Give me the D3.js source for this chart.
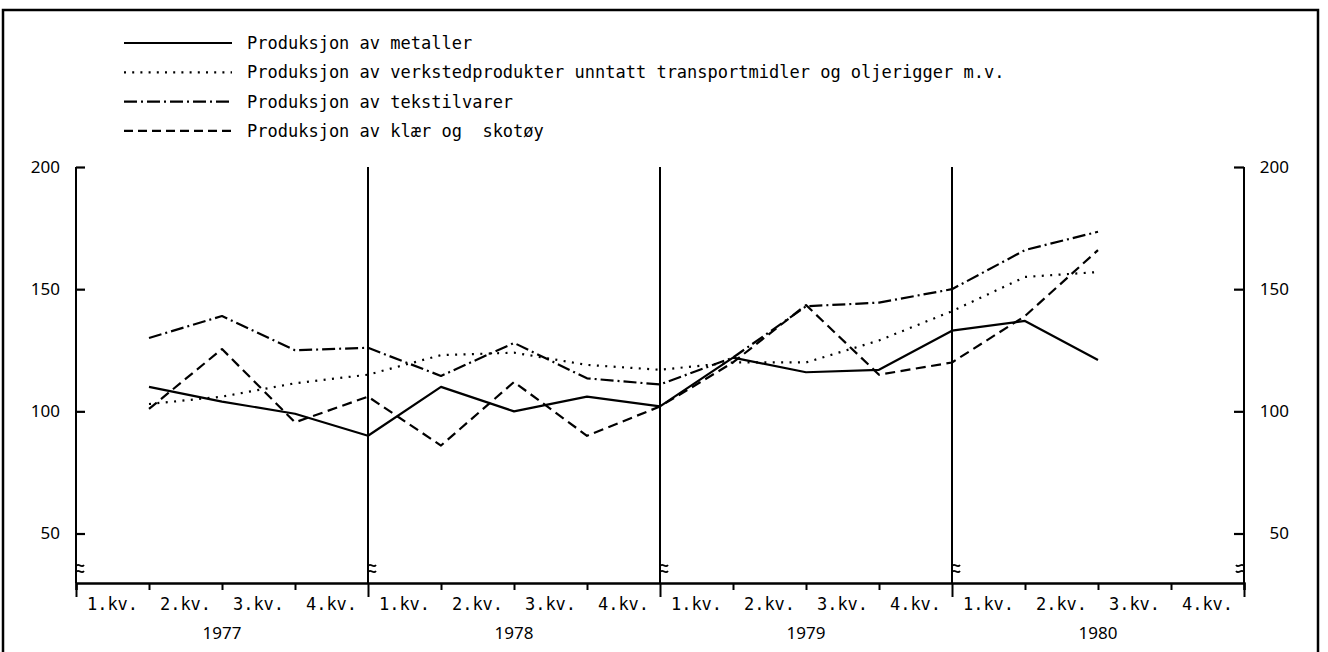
<!DOCTYPE html>
<html><head><meta charset="utf-8">
<script src="https://cdn.jsdelivr.net/npm/d3@7"></script>
<style>body{margin:0;background:#fff}svg{display:block}</style>
</head><body>
<svg id="c" width="1328" height="652"></svg>
<script>
const quarterLabels = ["1.kv.","2.kv.","3.kv.","4.kv."];
const years = ["1977","1978","1979","1980"];
const yTicks = [50,100,150,200];
const seriesNames = [
  "Produksjon av metaller",
  "Produksjon av verkstedprodukter unntatt transportmidler og oljerigger m.v.",
  "Produksjon av tekstilvarer",
  "Produksjon av klær og  skotøy"
];
// values at end of each quarter, 1977 1.kv. .. 1980 2.kv.
const metaller  = [110,104,99,90,110,100,106,102,122,116,117,133,137,121];
const verksted  = [103,106,111.5,115,123,124,119,117,120,120,129,141,155,157];
const tekstil   = [130,139,125,126,114.5,128,113.5,111,122,143,144.5,150,166,173.5];
const klaer     = [101,125.5,95.5,106,86,112,90,102,120,143.5,115,120,139,166];

const dashes = [null, "2,6.4", "13,4,2,4", "10,5.5"];
const allSeries = [metaller, verksted, tekstil, klaer];

const svg = d3.select("#c");
const x = d3.scaleLinear().domain([0,16]).range([76,1244]);
const y = d3.scaleLinear().domain([50,200]).range([533.5,167]);
const axisY = 583;

// frame
svg.append("rect").attr("x",3).attr("y",10).attr("width",1315).attr("height",700)
  .attr("fill","none").attr("stroke","#000").attr("stroke-width",2.5);

// legend
const lg = svg.append("g");
seriesNames.forEach((n,i)=>{
  const ly = 43 + i*29.3;
  lg.append("line").attr("x1",124).attr("x2",232).attr("y1",ly).attr("y2",ly)
    .attr("stroke","#000").attr("stroke-width",2.2)
    .attr("stroke-dasharray", i===1 ? "2,6.2" : i===2 ? "13,4,2,4" : i===3 ? "9,5" : null);
  lg.append("text").attr("x",247).attr("y",ly).attr("dy","0.35em")
    .attr("font-family","DejaVu Sans Mono").attr("font-size",17).attr("fill","#000")
    .attr("xml:space","preserve").style("white-space","pre").text(n);
});

// left axis
const gl = svg.append("g").attr("transform",`translate(${x(0)},0)`)
  .call(d3.axisLeft(y).tickValues(yTicks).tickSize(-9).tickPadding(16));
gl.select(".domain").remove();
gl.selectAll("line").attr("stroke-width",2.2);
gl.selectAll("text").attr("font-family","Noto Sans").attr("font-size",17).attr("fill","#000");

// right axis
const gr = svg.append("g").attr("transform",`translate(${x(16)},0)`)
  .call(d3.axisRight(y).tickValues(yTicks).tickSize(-10).tickPadding(17));
gr.select(".domain").remove();
gr.selectAll("line").attr("stroke-width",2.2);
gr.selectAll("text").attr("font-family","Noto Sans").attr("font-size",17).attr("fill","#000")
  .attr("text-anchor","end").attr("x",45);

// bottom axis
const gb = svg.append("g").attr("transform",`translate(0,${axisY})`)
  .call(d3.axisBottom(x).tickValues(d3.range(17)).tickFormat("").tickSize(7));
gb.select(".domain").attr("stroke-width",2.5);
gb.selectAll(".tick line").attr("stroke-width",2)
  .attr("y2", d => d%4===0 ? 14 : 7);

// year vertical lines (full height)
[0,4,8,12,16].forEach(k=>{
  svg.append("line").attr("x1",x(k)).attr("x2",x(k)).attr("y1",y(200)).attr("y2",axisY)
    .attr("stroke","#000").attr("stroke-width",2);
});

// break marks
[0,4,8,12,16].forEach(k=>{
  const bx = x(k), s = k===16 ? -1 : 1;
  const p = d3.path();
  [566,572].forEach(by=>{
    p.moveTo(bx, by);
    p.bezierCurveTo(bx+s*3, by-4, bx+s*5, by+3, bx+s*8, by-1);
  });
  svg.append("path").attr("d",p.toString()).attr("fill","none").attr("stroke","#000").attr("stroke-width",1.8);
});

// quarter labels
for(let k=0;k<16;k++){
  svg.append("text").attr("x",x(k+0.5)).attr("y",604).attr("dy","0.35em")
    .attr("text-anchor","middle").attr("font-family","DejaVu Sans Mono").attr("font-size",17)
    .attr("fill","#000").text(quarterLabels[k%4]);
}
// year labels
years.forEach((yr,i)=>{
  svg.append("text").attr("x",x(i*4+2)).attr("y",633).attr("dy","0.35em")
    .attr("text-anchor","middle").attr("font-family","Noto Sans").attr("font-size",17)
    .attr("fill","#000").text(yr);
});

// series lines
const line = d3.line().x((d,i)=>x(i+1)).y(d=>y(d));
allSeries.forEach((s,i)=>{
  svg.append("path").datum(s).attr("d",line).attr("fill","none")
    .attr("stroke","#000").attr("stroke-width",2.2)
    .attr("stroke-linejoin","round")
    .attr("stroke-dasharray",dashes[i]);
});
</script>
</body></html>
